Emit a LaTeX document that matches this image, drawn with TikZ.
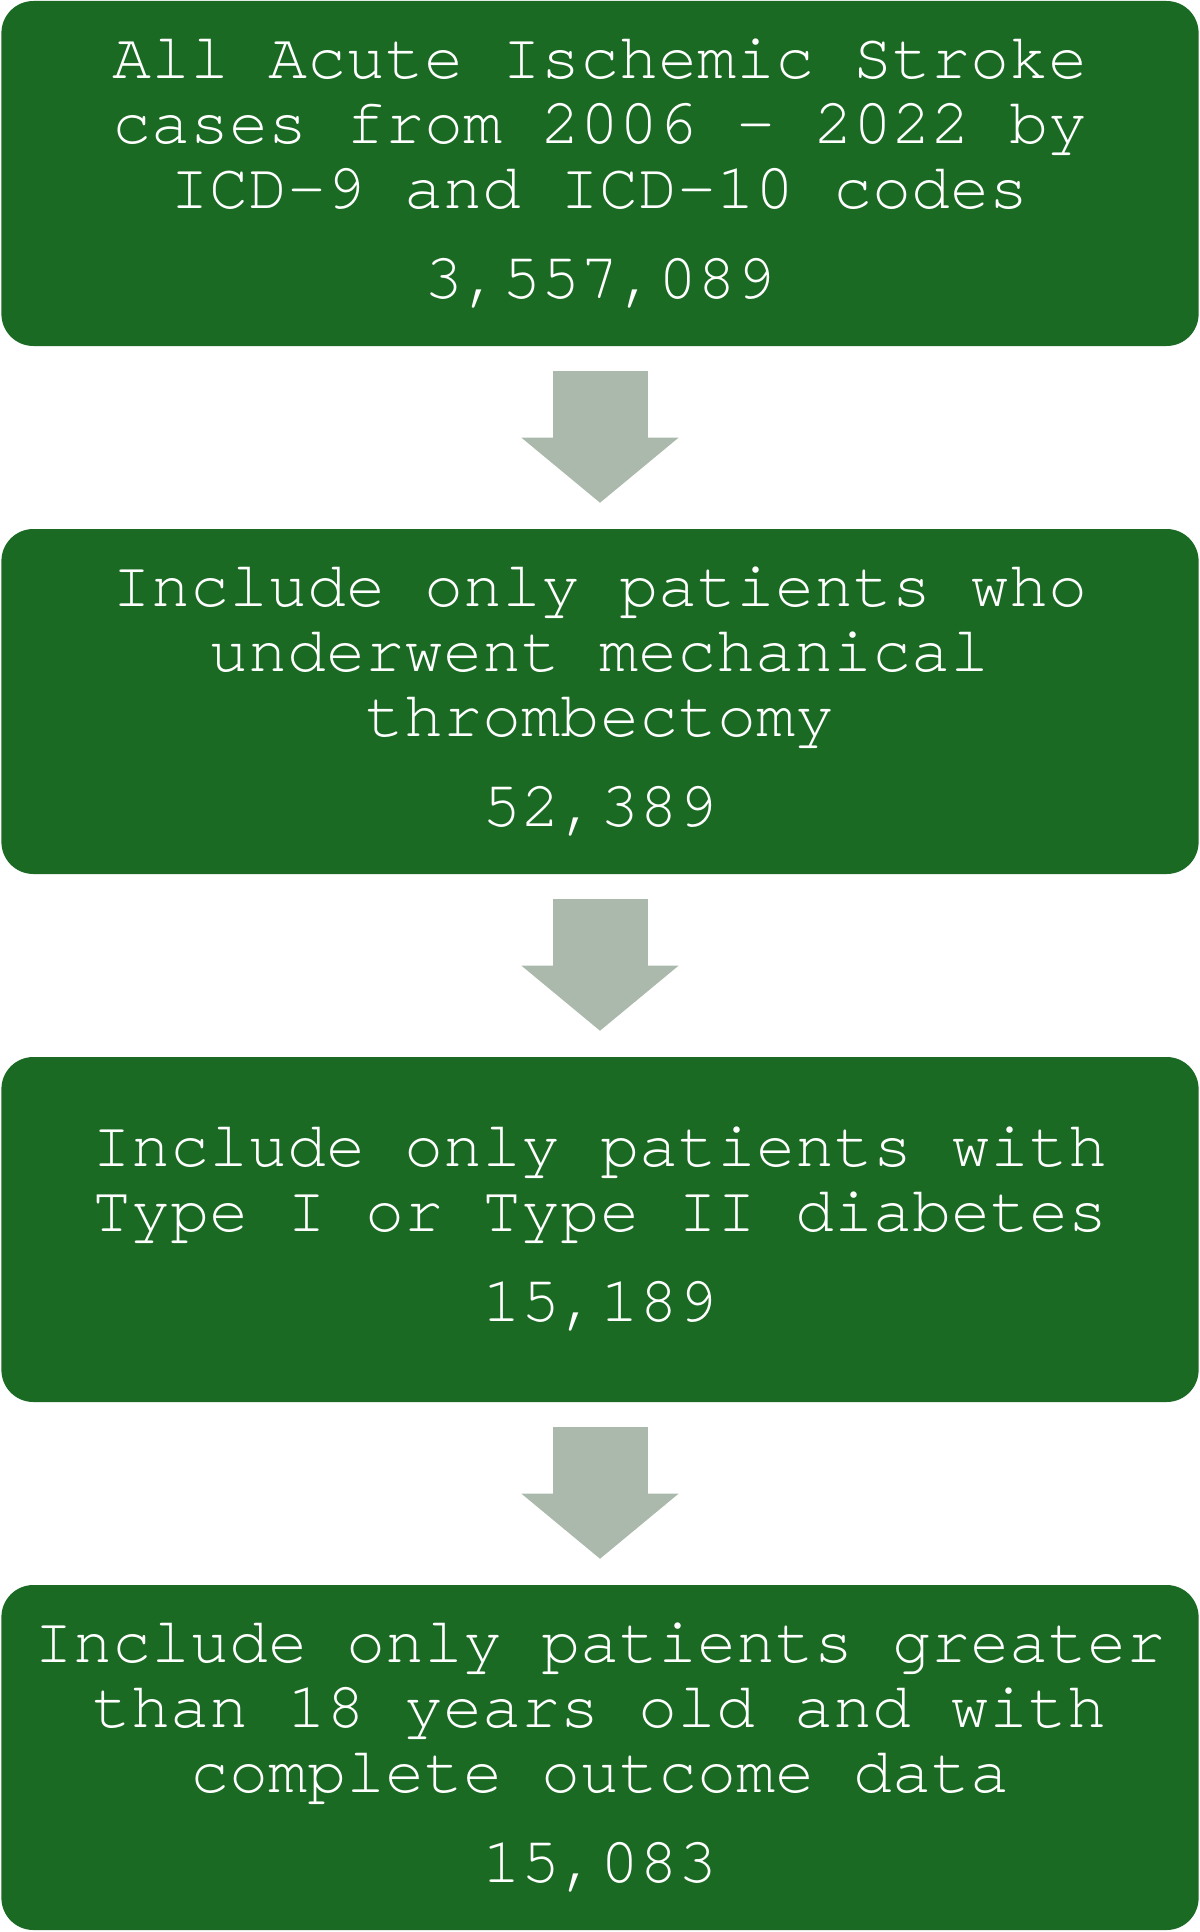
\documentclass[tikz,border=0pt]{standalone}
\usepackage{fontspec}
\usetikzlibrary{arrows.meta}
\newfontfamily\flowfont{texgyrecursor-regular.otf}
\definecolor{boxgreen}{RGB}{27,106,36}
\definecolor{arrowgrey}{RGB}{171,185,173}

\begin{document}
\begin{tikzpicture}
      		\tikzstyle{stage}=[fill=boxgreen,rounded corners=0.8cm,minimum width=29.93cm,minimum height=8.625cm,inner sep=0pt,align=center,text=white,font=\flowfont\fontsize{46.24}{46.24}\selectfont]
      		\tikzstyle{flow}=[arrowgrey,line width=2.375cm,shorten <=0.625cm,shorten >=0.65cm,-{Triangle[length=1.625cm,width=3.925cm,line width=0pt]}]

		\useasboundingbox (0,0) rectangle (30,-48.3);

       	\node[stage](s1) at (15,-4.3375){All Acute Ischemic Stroke\\cases from 2006 - 2022 by\\ICD-9 and ICD-10 codes\\[0.625cm]3,557,089};
        	\node[stage](s2) at (15,-17.5375){Include only patients who\\underwent mechanical\\thrombectomy\\[0.625cm]52,389};
		\node[stage](s3) at (15,-30.7375){Include only patients with\\Type I or Type II diabetes\\[0.625cm]15,189};
		\node[stage](s4) at (15,-43.9375){Include only patients greater\\than 18 years old and with\\complete outcome data\\[0.625cm]15,083};

        	\draw[flow] (s1) -- (s2);
        	\draw[flow] (s2) -- (s3);
		\draw[flow] (s3) -- (s4);
    	\end{tikzpicture}
\end{document}
